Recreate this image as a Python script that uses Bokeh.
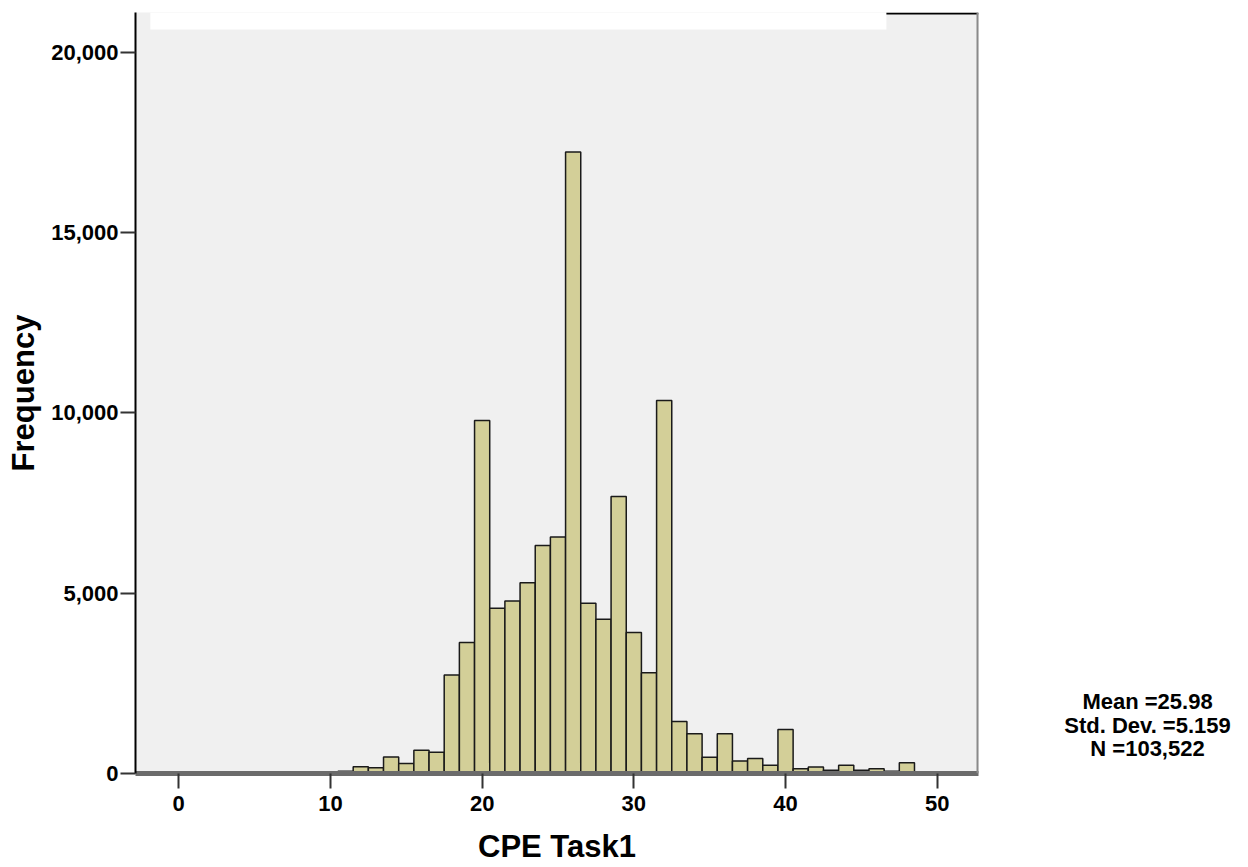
from bokeh.plotting import figure
from bokeh.layouts import row
from bokeh.models import (Range1d, FixedTicker, NumeralTickFormatter,
                          BoxAnnotation, Span, ColumnDataSource)
from bokeh.core.properties import value
from bokeh.embed import file_html
from bokeh.resources import INLINE

# ---- data ----
score = [8, 9, 10, 11, 12, 13, 14, 15, 16, 17, 18, 19, 20, 21, 22, 23, 24, 25,
         26, 27, 28, 29, 30, 31, 32, 33, 34, 35, 36, 37, 38, 39, 40, 41, 42,
         43, 44, 45, 46, 47, 48]
frequency = [40, 0, 40, 60, 184, 160, 460, 276, 643, 590, 2730, 3630, 9790,
             4580, 4780, 5290, 6320, 6560, 17230, 4720, 4280, 7680, 3910, 2790,
             10340, 1440, 1100, 450, 1100, 350, 414, 230, 1223, 130, 180, 90,
             230, 90, 130, 60, 300]
x_ticks = [0, 10, 20, 30, 40, 50]
y_ticks = [0, 5000, 10000, 15000, 20000]
stats_lines = ["Mean =25.98", "Std. Dev. =5.159", "N =103,522"]
x_title = "CPE Task1"
y_title = "Frequency"

FONT = "Liberation Sans"
H = 866
W_MAIN, W_STATS = 985, 255
FRAME_LEFT, FRAME_RIGHT, FRAME_TOP, FRAME_BOTTOM = 135, 978, 12, 775

X_MIN, X_MAX = -2.85, 52.72
Y_MAX = 21100

src = ColumnDataSource(dict(left=[s - 0.5 for s in score],
                            right=[s + 0.5 for s in score],
                            top=frequency,
                            bottom=[0] * len(score)))

p = figure(width=W_MAIN, height=H, output_backend="svg", toolbar_location=None,
           x_range=Range1d(X_MIN, X_MAX), y_range=Range1d(0, Y_MAX),
           min_border_left=FRAME_LEFT, min_border_right=W_MAIN - FRAME_RIGHT,
           min_border_top=FRAME_TOP, min_border_bottom=H - FRAME_BOTTOM)

p.border_fill_color = "white"
p.background_fill_color = "#f0f0f0"
p.outline_line_color = None
p.xgrid.visible = False
p.ygrid.visible = False

# white patch across the top of the frame (as in the reference)
p.add_layout(BoxAnnotation(left=-1.87, right=46.65, bottom=20630,
                           fill_color="white", fill_alpha=1.0,
                           line_color=None, level="underlay"))
# short black top border to the right of the patch
p.add_layout(BoxAnnotation(left=46.65, right=X_MAX, bottom=Y_MAX - 55,
                           fill_color="black", fill_alpha=1.0,
                           line_color=None, level="underlay"))

p.quad(left="left", right="right", top="top", bottom="bottom", source=src,
       fill_color="#d3cf98", line_color="#1a1a1a", line_width=1.5)

# grey right-hand border of the plotting area
p.add_layout(Span(location=X_MAX, dimension="height",
                  line_color="#8a8a8a", line_width=4))

# x axis
xa = p.xaxis[0]
xa.ticker = FixedTicker(ticks=x_ticks)
xa.minor_tick_line_color = None
xa.major_tick_out = 15
xa.major_tick_in = 0
xa.major_tick_line_color = "#333333"
xa.major_tick_line_width = 2
xa.axis_line_color = "#6b6b6b"
xa.axis_line_width = 5
xa.major_label_text_font = FONT
xa.major_label_text_font_style = "bold"
xa.major_label_text_font_size = "22px"
xa.major_label_text_color = "black"
xa.major_label_standoff = 7
xa.axis_label = x_title
xa.axis_label_text_font = FONT
xa.axis_label_text_font_style = "bold"
xa.axis_label_text_font_size = "31px"
xa.axis_label_text_color = "black"
xa.axis_label_standoff = 15

# y axis
ya = p.yaxis[0]
ya.ticker = FixedTicker(ticks=y_ticks)
ya.formatter = NumeralTickFormatter(format="0,0")
ya.minor_tick_line_color = None
ya.major_tick_out = 15
ya.major_tick_in = 0
ya.major_tick_line_color = "#333333"
ya.major_tick_line_width = 2
ya.axis_line_color = "black"
ya.axis_line_width = 2
ya.major_label_text_font = FONT
ya.major_label_text_font_style = "bold"
ya.major_label_text_font_size = "22px"
ya.major_label_text_color = "black"
ya.major_label_standoff = 2
ya.axis_label = y_title
ya.axis_label_text_font = FONT
ya.axis_label_text_font_style = "bold"
ya.axis_label_text_font_size = "31px"
ya.axis_label_text_color = "black"
ya.axis_label_standoff = 7

# statistics block: a small pixel-space panel to the right of the chart,
# its frame aligned with the main frame (y measured up from FRAME_BOTTOM)
frame_h = FRAME_BOTTOM - FRAME_TOP
s = figure(width=W_STATS, height=H, output_backend="svg", toolbar_location=None,
           x_range=Range1d(0, W_STATS), y_range=Range1d(0, frame_h),
           min_border_left=0, min_border_right=0,
           min_border_top=FRAME_TOP, min_border_bottom=H - FRAME_BOTTOM)
s.axis.visible = False
s.grid.visible = False
s.outline_line_color = None
s.background_fill_color = "white"
s.border_fill_color = "white"
stats_center_px = 1147 - W_MAIN
stats_rows_px = [703, 727, 750]
s.text(x=[stats_center_px] * len(stats_lines),
       y=[FRAME_BOTTOM - r for r in stats_rows_px], text=stats_lines,
       text_align="center", text_baseline="middle", text_font=value(FONT),
       text_font_style="bold", text_font_size="22px", text_color="black")

layout = row(p, s)
open("out.html", "w").write(file_html(layout, INLINE))
